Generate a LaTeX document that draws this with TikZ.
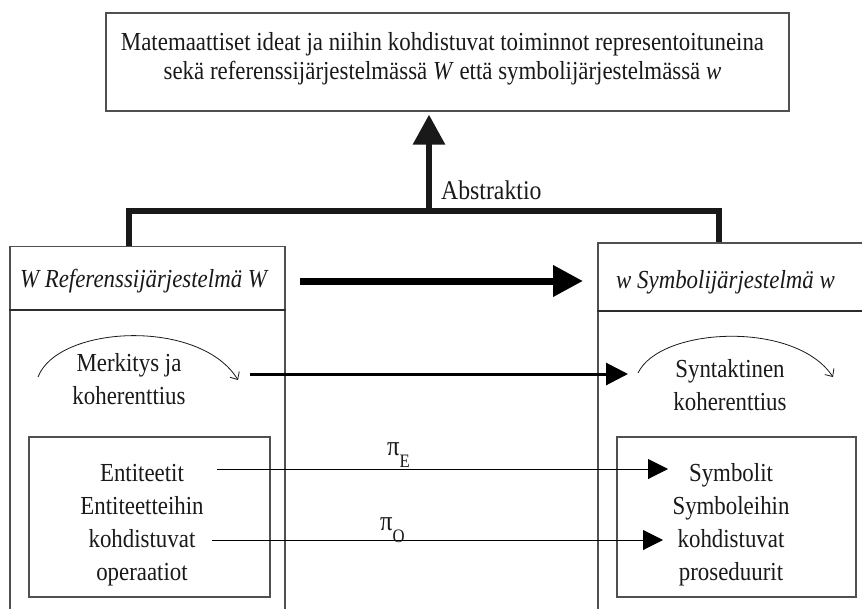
\documentclass[tikz,border=0pt]{standalone}
\usepackage{fontspec}
\setmainfont{Liberation Serif}[FakeStretch=0.88]
\usetikzlibrary{arrows.meta}
\definecolor{ink}{RGB}{25,25,25}
\definecolor{boxgray}{RGB}{80,80,80}
\definecolor{rulegray}{RGB}{45,45,45}
\begin{document}
\begin{tikzpicture}[x=1pt,y=-1pt,
  txt/.style={font=\fontsize{26}{29}\selectfont, text=ink, inner sep=0pt, align=center},
  loose/.style={txt, font=\fontsize{26}{33}\selectfont},
  hd/.style={txt, font=\fontsize{26}{29}\selectfont\itshape},
  frame/.style={draw=boxgray, line width=1.2pt, inner sep=0pt},
  divider/.style={draw=rulegray, line width=2pt},
  bar/.style={draw=ink, line width=6pt, line join=miter},
  bigarrow/.style={draw=ink, line width=6pt, -{Triangle[length=30pt,width=31pt]}},
  headarrow/.style={draw=black, line width=7pt, -{Triangle[length=30pt,width=30pt]}},
  midarrow/.style={draw=black, line width=3pt, -{Triangle[length=22pt,width=22pt]}},
  thinarrow/.style={draw=black, line width=1pt, -{Triangle[length=20pt,width=20pt]}},
  loop/.style={draw=ink, line width=0.8pt, -{Straight Barb[length=6pt,width=11pt]}},
  pilabel/.style={font=\fontsize{28}{28}\selectfont, text=ink, inner sep=0pt, anchor=base west},
]
\useasboundingbox (0,0) rectangle (862,608);
\clip (0,0) rectangle (862,608);

% top box: the mathematical ideas
\node[frame, minimum width=683pt, minimum height=98pt] (top) at (447.5,62) {};
\node[txt] (toptext) at (442.5,59)
  {Matemaattiset ideat ja niihin kohdistuvat toiminnot representoituneina\\
   sekä referenssijärjestelmässä \textit{W} että symbolijärjestelmässä \textit{w}};

% the two systems
\node[frame, minimum width=275pt, minimum height=376pt] (refbox) at (147.5,434.7) {};
\node[frame, minimum width=282pt, minimum height=378pt] (symbox) at (739,432) {};
\draw[divider] (refbox.west |- 0,310) -- (refbox.east |- 0,310);
\draw[divider] (symbox.west |- 0,311) -- (symbox.east |- 0,311);

\node[hd] (refhead) at (143.5,281) {W Referenssijärjestelmä W};
\node[hd] (symhead) at (725.5,282) {w Symbolijärjestelmä w};

% semantic and syntactic coherence
\node[loose] (refsem) at (129,379) {Merkitys ja\\koherenttius};
\node[loose] (symsyn) at (730,385) {Syntaktinen\\koherenttius};

% inner boxes
\node[frame, minimum width=241pt, minimum height=160pt] (refinner) at (149.5,517) {};
\node[frame, minimum width=239pt, minimum height=160pt] (syminner) at (736.5,517) {};
\node[loose] (enttext) at (142,525) {Entiteetit\\Entiteetteihin\\kohdistuvat\\operaatiot};
\node[loose] (symtext) at (731,525) {Symbolit\\Symboleihin\\kohdistuvat\\proseduurit};

% abstraction tree
\coordinate (barL) at (129,211);
\coordinate (barR) at (719,211);
\coordinate (barM) at (429,211);
\draw[bar] (refbox.north -| barL) -- (barL) -- (barR) -- (symbox.north -| barR);
\draw[bigarrow] (barM) -- ([yshift=-3pt]top.south -| barM);
\node[txt, anchor=west, font=\fontsize{27}{29}\selectfont] (abs) at (441,190) {Abstraktio};

% mapping arrows
\coordinate (hA) at (300,281);
\coordinate (hB) at (583,281);
\draw[headarrow] (hA) -- (hB);

\coordinate (mA) at (250,374);
\coordinate (mB) at (628,374);
\draw[midarrow] (mA) -- (mB);

\coordinate (eA) at (217,469);
\coordinate (eB) at (668,469);
\draw[thinarrow] (eA) -- (eB);
\coordinate (oA) at (212,540);
\coordinate (oB) at (663,540);
\draw[thinarrow] (oA) -- (oB);

\node[pilabel] (piE) at (387,455) {π\raisebox{-12pt}{\fontsize{19}{19}\selectfont E}};
\node[pilabel] (piO) at (380,530) {π\raisebox{-12pt}{\fontsize{19}{19}\selectfont O}};

% coherence loops
\coordinate (lA) at (38,377);
\coordinate (lB) at (238,380);
\draw[loop] (lA) .. controls (58,325) and (200,318) .. (lB);
\coordinate (rA) at (638,373);
\coordinate (rB) at (833,377);
\draw[loop] (rA) .. controls (660,327) and (795,320) .. (rB);
\end{tikzpicture}
\end{document}
